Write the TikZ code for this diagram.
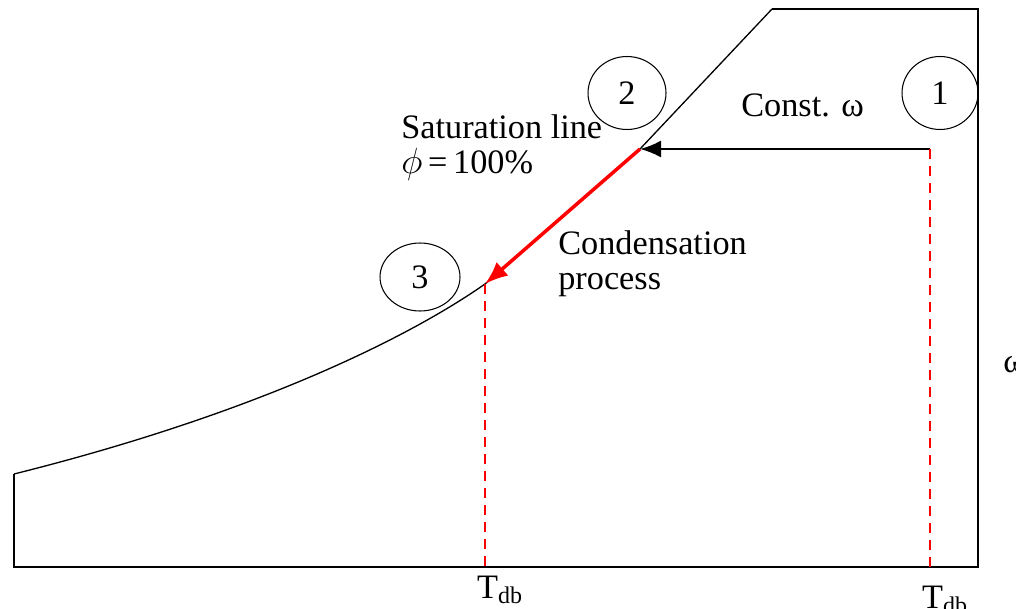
\documentclass[tikz,border=0pt]{standalone}
\usepackage{fontspec}
\setmainfont{Liberation Serif}
\usepackage{tikz}
\usetikzlibrary{arrows.meta,positioning,shapes.geometric}

\begin{document}
\begin{tikzpicture}[x=0.02cm, y=-0.02cm,
    frame/.style={line width=1.1pt, line join=miter},
    stateno/.style={draw, ellipse, line width=0.6pt, inner sep=0pt, font=\fontsize{19.5}{20}\selectfont},
    txt/.style={inner sep=0pt, align=left, font=\fontsize{19.5}{20}\selectfont},
    drop/.style={red, dashed, line width=1.4pt, dash pattern=on 0.2cm off 0.14cm}]
  \useasboundingbox (0,0) rectangle (1016,608);

  % --- state points on the chart ---
  \coordinate (p1) at (930,149);
  \coordinate (p2) at (640,149);
  \coordinate (p3) at (485,284);
  \coordinate (f1) at (930,567);
  \coordinate (f3) at (485,567);
  \coordinate (c0) at (14,474);
  \coordinate (ct) at (772,9);

  % --- chart outline with saturation curve ---
  \draw[frame] (c0) -- (14,567) -- (978,567) -- (978,9) -- (ct);
  \draw[line width=0.75pt] (c0) .. controls (250,415) and (405,340) .. (p3)
    -- (p2) -- (ct);

  % --- circled state numbers ---
  \node[stateno, minimum width=1.52cm, minimum height=1.46cm] (s1) at (940,93) {1};
  \node[stateno, minimum width=1.56cm, minimum height=1.46cm] (s2) at (627,93) {2};
  \node[stateno, minimum width=1.6cm, minimum height=1.36cm] (s3) at (420,277) {3};

  % --- labels ---
  \node[txt, anchor=west] (sat) at (401,148) {Saturation line\\$\phi$\,=\,100\%};
  \node[txt, anchor=west] (const) at (741,105) {Const. ω};
  \node[txt, anchor=west] (cond) at (558,264) {Condensation\\process};
  \node[txt] (t3) at (500,590) {T\textsubscript{db}};
  \node[txt] (t1) at (945,600) {T\textsubscript{db}};
  \node[txt, anchor=west] (om) at (1003,365) {ω};

  % --- processes ---
  \draw[-{Latex[length=4.2mm, width=3.4mm]}, line width=1.2pt] (p1) -- (p2);
  \draw[-{Latex[length=4.6mm, width=3.6mm]}, line width=2pt, red] (p2) -- (p3);
  \draw[drop] (p1) -- (f1);
  \draw[drop] (p3) -- (f3);
\end{tikzpicture}
\end{document}
